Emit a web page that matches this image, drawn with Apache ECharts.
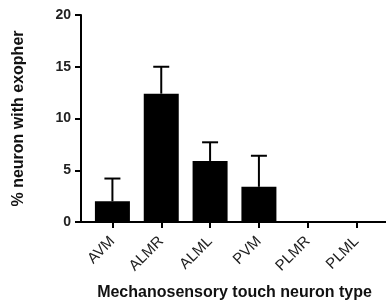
<!DOCTYPE html>
<html>
<head>
<meta charset="utf-8">
<script src="https://cdn.jsdelivr.net/npm/echarts@6/dist/echarts.min.js"></script>
<style>
  html, body { margin: 0; padding: 0; background: #fff; }
  #chart { width: 386px; height: 301px; }
</style>
</head>
<body>
<div id="chart"></div>
<script>
// neuron types and % with exopher (mean + upper error)
const neuronTypes = ["AVM", "ALMR", "ALML", "PVM", "PLMR", "PLML"];
const meanValues = [2.0, 12.4, 5.9, 3.4, 0, 0];
const errorValues = [2.2, 2.6, 1.8, 3.0, 0, 0];
const yTicks = [0, 5, 10, 15, 20];

const font = "'Liberation Sans', Arial, sans-serif";
const chart = echarts.init(document.getElementById("chart"));

const option = {
  animation: false,
  grid: [
    // bars sit here (small gap after y axis, like the original)
    { left: 88, right: 5, top: 15, bottom: 79, outerBoundsMode: "none", containLabel: false },
    // full width grid, only used for the axis lines
    { left: 81, right: 0, top: 15, bottom: 79, outerBoundsMode: "none", containLabel: false }
  ],
  xAxis: [
    {
      type: "category",
      gridIndex: 0,
      data: neuronTypes,
      axisLine: { show: false },
      axisTick: { show: true, alignWithLabel: true, length: 6, lineStyle: { color: "#000", width: 2 } },
      axisLabel: {
        rotate: 45,
        margin: 17,
        interval: 0,
        fontFamily: font,
        fontSize: 15,
        color: "#222"
      },
      name: "Mechanosensory touch neuron type",
      nameLocation: "middle",
      nameGap: 63,
      nameTextStyle: { fontFamily: font, fontSize: 16, fontWeight: "bold", color: "#111" }
    },
    {
      type: "value",
      gridIndex: 1,
      min: 0,
      max: 1,
      axisLine: { show: true, onZero: false, lineStyle: { color: "#000", width: 2 } },
      axisTick: { show: false },
      axisLabel: { show: false },
      splitLine: { show: false }
    }
  ],
  yAxis: [
    {
      type: "value",
      gridIndex: 0,
      min: yTicks[0],
      max: yTicks[yTicks.length - 1],
      interval: 5,
      show: false
    },
    {
      type: "value",
      gridIndex: 1,
      min: yTicks[0],
      max: yTicks[yTicks.length - 1],
      interval: 5,
      axisLine: { show: true, lineStyle: { color: "#000", width: 2 } },
      axisTick: { show: true, length: 6, lineStyle: { color: "#000", width: 2 } },
      axisLabel: {
        margin: 10,
        fontFamily: font,
        fontSize: 14,
        fontWeight: "bold",
        color: "#222"
      },
      splitLine: { show: false },
      name: "% neuron with exopher",
      nameLocation: "middle",
      nameGap: 54,
      nameTextStyle: { fontFamily: font, fontSize: 16, fontWeight: "bold", color: "#111" }
    }
  ],
  series: [
    {
      type: "bar",
      xAxisIndex: 0,
      yAxisIndex: 0,
      data: meanValues,
      barWidth: 35,
      itemStyle: { color: "#000" }
    },
    {
      // upper error bars
      type: "custom",
      xAxisIndex: 0,
      yAxisIndex: 0,
      data: meanValues.map((v, i) => [i, v, v + errorValues[i]]),
      renderItem: function (params, api) {
        const i = api.value(0);
        if (errorValues[i] <= 0) return null;
        const base = api.coord([i, api.value(1)]);
        const top = api.coord([i, api.value(2)]);
        const half = 8;
        const style = { stroke: "#000", lineWidth: 2 };
        return {
          type: "group",
          children: [
            { type: "line", shape: { x1: base[0], y1: base[1], x2: top[0], y2: top[1] }, style: style },
            { type: "line", shape: { x1: top[0] - half, y1: top[1], x2: top[0] + half, y2: top[1] }, style: style }
          ]
        };
      },
      z: 3
    }
  ]
};

chart.setOption(option);
</script>
</body>
</html>
